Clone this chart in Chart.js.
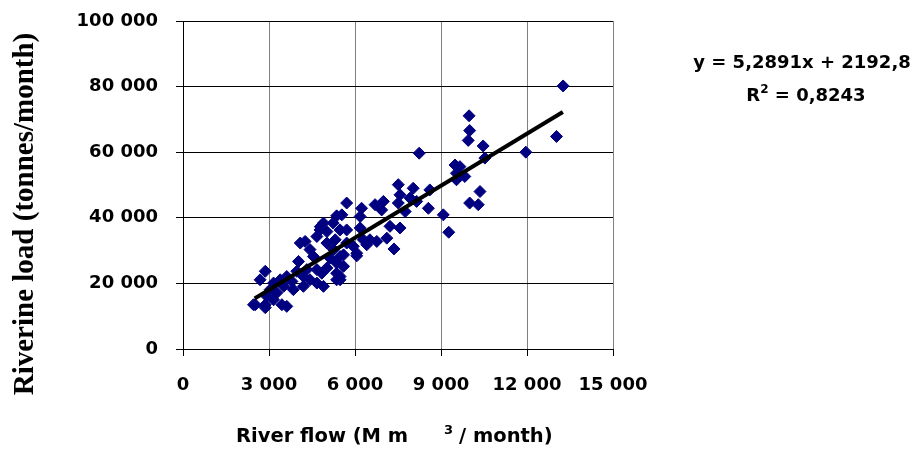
<!DOCTYPE html>
<html>
<head>
<meta charset="utf-8">
<script src="https://cdn.jsdelivr.net/npm/chart.js@4.4.1/dist/chart.umd.min.js"></script>
<style>
  body { margin: 0; background: #fff; }
</style>
</head>
<body>
<canvas id="myChart" width="920" height="449"></canvas>
<script>
// Data
const flowX = [
  13260, 9980, 10000, 9950, 10470, 13030, 11960, 8240, 10530, 9490,
  9660, 9540, 9830, 9540, 10360, 10000, 10300, 9080, 9270, 7510,
  8030, 8610, 7570, 7510, 7750, 8150, 8560, 7920, 6990, 6700,
  6930, 6230, 5710, 6180, 5360, 5540, 4900, 4780, 5020, 4670,
  5480, 5710, 6180, 7220, 7570, 7110, 6760, 6410, 6290, 7360,
  6060, 5310, 4090, 4260, 4430, 4030, 4550, 5130, 5480, 5360,
  5600, 5020, 4670, 4840, 5480, 5480, 5360, 3970, 4200, 4430,
  4670, 4900, 4200, 3850, 3620, 3390, 3160, 2870, 2690, 3040,
  3270, 2930, 2460, 2870, 3450, 3160, 3510, 3800, 4320, 5020,
  5250, 5600, 5940, 6520, 5710, 5360, 4790, 5240, 6060, 3620,
  2520, 2870
];
const loadY = [
  80200, 71100, 66600, 63600, 61900, 64800, 60000, 59700, 58200, 56100,
  55600, 53600, 52600, 51600, 48000, 44500, 44000, 40900, 35600, 50100,
  49000, 48500, 47000, 44500, 41900, 45000, 42900, 46000, 45000, 44000,
  42400, 42900, 44500, 40400, 40600, 40900, 38400, 36300, 35800, 34300,
  36300, 36300, 36900, 37400, 36900, 33800, 32800, 31800, 33300, 30500,
  28400, 33300, 32300, 32800, 30300, 26700, 28200, 27700, 28200, 26200,
  25200, 24700, 24200, 23100, 22100, 21100, 23100, 23700, 22100, 21100,
  20100, 19100, 19100, 18100, 22100, 21100, 20100, 23700, 21100, 18100,
  17100, 16000, 13500, 13500, 13500, 15000, 19100, 20600, 24200, 32300,
  30300, 28700, 31300, 33300, 32300, 21100, 37300, 38400, 29200, 13000,
  13500, 12600
];

// Trend line: y = 5,2891x + 2192,8 over the range of the data
const slope = 5.2891;
const intercept = 2192.8;
const trendX = [2500, 13250];
const xTicks = [0, 3000, 6000, 9000, 12000, 15000];
const yTicks = [0, 20000, 40000, 60000, 80000, 100000];

const points = flowX.map((x, i) => ({ x: x, y: loadY[i] }));
const trend = trendX.map(x => ({ x: x, y: slope * x + intercept }));

function spaced(v) {
  return String(v).replace(/\B(?=(\d{3})+(?!\d))/g, " ");
}

const tickFont = { family: "DejaVu Sans", size: 18, weight: "bold" };

// axis titles and equation text drawn by hand (superscripts)
const extraText = {
  id: "extraText",
  afterDraw(chart) {
    const ctx = chart.ctx;
    ctx.save();
    ctx.fillStyle = "#000";
    ctx.textBaseline = "alphabetic";

    // y axis title
    ctx.save();
    ctx.translate(33, 214);
    ctx.rotate(-Math.PI / 2);
    ctx.font = "bold 29px 'Liberation Serif'";
    ctx.textAlign = "center";
    ctx.fillText("Riverine load (tonnes/month)", 0, 0);
    ctx.restore();

    // x axis title
    ctx.textAlign = "left";
    ctx.font = "bold 19.5px 'DejaVu Sans'";
    ctx.fillText("River flow (M m", 236, 442);
    ctx.fillText("/ month)", 459, 442);
    ctx.font = "bold 13px 'DejaVu Sans'";
    ctx.fillText("3", 444, 434);

    // equation
    ctx.font = "bold 18px 'DejaVu Sans'";
    ctx.textAlign = "center";
    ctx.fillText("y = 5,2891x + 2192,8", 802, 68);

    // R² line with a raised 2
    const a = "R", b = "2", c = " = 0,8243";
    const wa = ctx.measureText(a).width;
    const wc = ctx.measureText(c).width;
    ctx.font = "bold 12px 'DejaVu Sans'";
    const wb = ctx.measureText(b).width;
    let x = 806 - (wa + wb + wc) / 2;
    ctx.textAlign = "left";
    ctx.font = "bold 18px 'DejaVu Sans'";
    ctx.fillText(a, x, 101);
    ctx.font = "bold 12px 'DejaVu Sans'";
    ctx.fillText(b, x + wa, 93);
    ctx.font = "bold 18px 'DejaVu Sans'";
    ctx.fillText(c, x + wa + wb, 101);
    ctx.restore();
  }
};

const config = {
  type: "scatter",
  data: {
    datasets: [
      {
        type: "line",
        label: "trend",
        data: trend,
        borderColor: "#000",
        borderWidth: 4,
        pointRadius: 0,
        fill: false
      },
      {
        label: "Riverine load",
        data: points,
        pointStyle: "rectRot",
        pointRadius: 6,
        pointBorderWidth: 1,
        backgroundColor: "#000080",
        borderColor: "#000080"
      }
    ]
  },
  options: {
    responsive: false,
    animation: false,
    layout: { padding: { left: 7, right: 307, top: 21, bottom: 3 } },
    plugins: {
      legend: { display: false },
      tooltip: { enabled: false }
    },
    scales: {
      x: {
        type: "linear",
        min: 0,
        max: 15000,
        afterBuildTicks: s => { s.ticks = xTicks.map(v => ({ value: v })); },
        afterFit: s => { s.height = 97; s.paddingLeft = 0; s.paddingRight = 0; },
        border: { color: "#000", width: 1 },
        grid: { color: "#808080", tickColor: "#000", tickLength: 7 },
        ticks: {
          color: "#000",
          font: tickFont,
          padding: 19,
          maxRotation: 0,
          callback: v => spaced(v)
        }
      },
      y: {
        min: 0,
        max: 100000,
        afterBuildTicks: s => { s.ticks = yTicks.map(v => ({ value: v })); },
        afterFit: s => { s.width = 176; s.paddingTop = 0; s.paddingBottom = 0; },
        border: { color: "#000", width: 1 },
        grid: { color: "#000", tickColor: "#000", tickLength: 7 },
        ticks: {
          color: "#000",
          font: tickFont,
          padding: 18,
          callback: v => spaced(v)
        }
      }
    }
  },
  plugins: [extraText]
};

const ctx = document.getElementById("myChart").getContext("2d");
const myChart = new Chart(ctx, config);
</script>
</body>
</html>
